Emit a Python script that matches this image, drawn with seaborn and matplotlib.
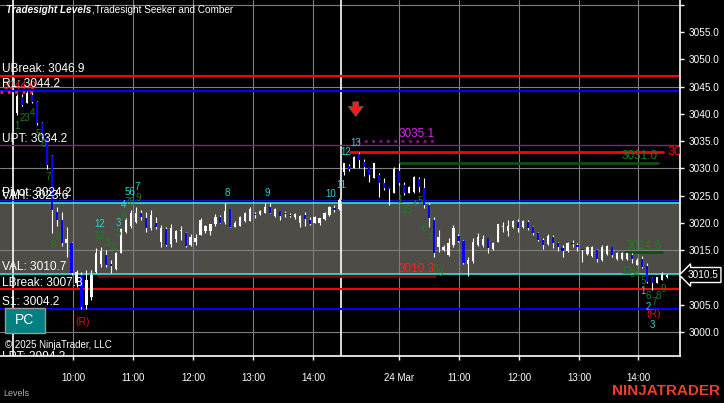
import numpy as np
import pandas as pd
import matplotlib
matplotlib.use("Agg")
import matplotlib.pyplot as plt
import matplotlib.patches as mpatches
import seaborn as sns

# 5 min bars, two sessions (bar 0-65 = day 1, 66-131 = 24 Mar)
opens = [
    3040.2, 3043.1, 3042.0, 3043.5, 3042.2, 3038.3, 3035.8, 3032.3, 3022.0, 3020.5,
    3016.3, 3016.3, 3009.0, 3010.4, 3005.0, 3006.5, 3011.0, 3012.5, 3014.1, 3012.4,
    3011.6, 3014.5, 3018.3, 3019.5, 3020.2, 3021.8, 3020.9, 3019.0, 3020.0, 3016.5,
    3018.9, 3016.2, 3017.0, 3018.5, 3018.2, 3016.0, 3016.5, 3017.8, 3018.5, 3018.5,
    3019.8, 3021.1, 3020.2, 3022.5, 3019.3, 3019.5, 3020.3, 3020.3, 3021.6, 3021.6,
    3021.9, 3022.9, 3021.2, 3022.1, 3021.7, 3021.4, 3021.0, 3020.0, 3021.4, 3020.6,
    3020.0, 3020.0, 3020.8, 3021.5, 3022.5, 3022.5,
    3029.3, 3030.5, 3030.0, 3032.6, 3031.2, 3030.2, 3028.3, 3028.8, 3027.3, 3026.5,
    3025.5, 3029.5, 3026.9, 3025.5, 3025.6, 3028.1, 3026.4, 3023.3, 3020.5, 3015.5,
    3015.0, 3014.2, 3015.9, 3017.6, 3016.7, 3012.5, 3013.0, 3016.0, 3016.0, 3017.2,
    3015.2, 3016.5, 3019.3, 3018.5, 3019.2, 3020.2, 3019.2, 3020.2, 3019.3, 3018.2,
    3016.9, 3016.2, 3017.4, 3016.3, 3015.4, 3014.8, 3016.3, 3015.9, 3015.3, 3014.3,
    3014.0, 3015.0, 3013.2, 3014.3, 3015.6, 3013.3, 3013.4, 3013.3, 3014.1, 3012.3,
    3013.4, 3012.1, 3009.9, 3009.0, 3009.6, 3010.0,
]
highs = [
    3043.6, 3043.6, 3044.2, 3044.0, 3042.4, 3038.5, 3036.0, 3032.5, 3023.0, 3022.0,
    3019.3, 3016.5, 3011.4, 3011.0, 3011.4, 3011.4, 3015.4, 3015.6, 3015.0, 3013.2,
    3014.7, 3019.1, 3020.9, 3022.4, 3022.9, 3022.4, 3022.0, 3022.4, 3021.0, 3019.6,
    3019.2, 3019.8, 3018.7, 3019.4, 3018.4, 3018.0, 3018.0, 3020.9, 3019.6, 3019.8,
    3021.6, 3021.4, 3023.65, 3022.6, 3020.3, 3021.3, 3022.0, 3022.9, 3022.0, 3022.4,
    3023.65, 3023.6, 3022.8, 3022.2, 3022.2, 3021.8, 3021.8, 3021.5, 3022.0, 3021.1,
    3021.3, 3020.9, 3022.0, 3023.1, 3023.3, 3024.5,
    3031.0, 3030.8, 3032.3, 3033.0, 3031.8, 3030.2, 3031.0, 3029.1, 3028.2, 3026.6,
    3030.2, 3031.0, 3027.5, 3026.8, 3028.6, 3028.5, 3028.2, 3023.65, 3021.1, 3018.7,
    3016.0, 3017.2, 3019.6, 3018.0, 3016.9, 3013.75, 3017.2, 3018.2, 3017.8, 3017.2,
    3016.5, 3019.8, 3020.2, 3020.5, 3020.5, 3020.7, 3020.5, 3020.5, 3019.4, 3018.4,
    3017.3, 3018.0, 3017.8, 3016.5, 3016.0, 3016.5, 3016.9, 3016.3, 3015.3, 3015.8,
    3015.8, 3015.2, 3016.0, 3016.0, 3015.6, 3014.7, 3014.7, 3014.5, 3014.5, 3013.6,
    3013.9, 3012.65, 3010.0, 3010.1, 3011.0, 3010.6,
]
lows = [
    3039.8, 3041.4, 3041.9, 3042.0, 3038.0, 3035.5, 3029.8, 3018.2, 3019.5, 3015.8,
    3013.7, 3010.5, 3008.3, 3004.2, 3004.2, 3005.9, 3010.8, 3011.9, 3011.9, 3010.8,
    3011.4, 3014.5, 3018.2, 3019.1, 3020.0, 3020.5, 3018.3, 3018.7, 3018.8, 3015.6,
    3015.8, 3015.6, 3016.5, 3016.8, 3015.6, 3015.8, 3015.9, 3017.8, 3018.2, 3017.8,
    3019.4, 3019.9, 3019.8, 3019.2, 3019.2, 3019.4, 3020.2, 3020.3, 3020.9, 3021.4,
    3021.8, 3021.8, 3021.1, 3020.5, 3021.0, 3021.0, 3020.7, 3019.3, 3019.4, 3019.6,
    3020.0, 3019.6, 3020.6, 3021.3, 3022.0, 3022.4,
    3028.8, 3029.5, 3030.0, 3030.1, 3028.6, 3027.5, 3028.3, 3024.8, 3026.0, 3023.3,
    3025.5, 3027.0, 3025.1, 3025.4, 3025.4, 3025.7, 3022.7, 3019.3, 3013.75, 3014.7,
    3014.9, 3013.9, 3015.6, 3016.5, 3012.5, 3010.3, 3012.6, 3015.8, 3015.6, 3014.5,
    3015.0, 3016.5, 3018.4, 3017.6, 3019.1, 3018.3, 3019.1, 3018.7, 3017.8, 3016.6,
    3015.2, 3016.0, 3015.4, 3014.9, 3013.75, 3014.6, 3015.6, 3014.9, 3012.8, 3014.1,
    3013.75, 3012.8, 3013.0, 3014.1, 3013.75, 3013.2, 3013.2, 3013.2, 3012.65, 3012.3,
    3011.7, 3009.0, 3007.7, 3008.9, 3009.5, 3009.9,
]
closes = [
    3043.2, 3041.6, 3043.8, 3042.2, 3038.3, 3035.8, 3030.6, 3022.4, 3020.5, 3016.3,
    3017.0, 3010.8, 3011.0, 3004.6, 3009.5, 3010.5, 3014.5, 3014.8, 3012.3, 3012.1,
    3014.5, 3018.8, 3020.5, 3021.8, 3021.9, 3021.1, 3019.1, 3021.5, 3019.2, 3019.0,
    3016.0, 3019.0, 3018.5, 3018.6, 3015.8, 3017.5, 3017.2, 3020.5, 3019.5, 3019.8,
    3021.0, 3020.0, 3022.2, 3019.3, 3020.0, 3021.0, 3021.8, 3022.6, 3021.5, 3022.2,
    3023.0, 3021.8, 3022.5, 3021.3, 3021.6, 3021.3, 3021.6, 3021.3, 3020.7, 3019.8,
    3021.0, 3020.9, 3021.8, 3023.0, 3022.45, 3024.2,
    3031.0, 3029.8, 3032.0, 3031.5, 3030.3, 3028.8, 3031.0, 3027.3, 3026.4, 3026.3,
    3029.9, 3027.3, 3025.5, 3026.6, 3028.4, 3026.6, 3023.3, 3020.9, 3014.5, 3017.5,
    3015.6, 3016.3, 3019.0, 3016.7, 3012.6, 3013.2, 3016.5, 3017.5, 3017.0, 3015.4,
    3016.3, 3019.8, 3019.4, 3019.5, 3020.3, 3019.1, 3020.4, 3019.1, 3018.2, 3016.9,
    3016.0, 3017.6, 3016.3, 3015.6, 3014.8, 3016.4, 3016.1, 3015.5, 3015.1, 3015.6,
    3015.5, 3013.3, 3015.6, 3015.8, 3014.1, 3014.5, 3014.4, 3014.4, 3013.4, 3013.2,
    3011.9, 3009.2, 3009.0, 3010.0, 3010.6, 3010.5,
]

tick_pos = [11.3, 23.4, 35.5, 47.6, 59.7, 77.0, 89.2, 101.3, 113.4, 125.2]
tick_labels = ["10:00", "11:00", "12:00", "13:00", "14:00",
               "24 Mar", "11:00", "12:00", "13:00", "14:00"]
session_breaks = [-0.8, 65.3]
price_ticks = [3000, 3005, 3010, 3015, 3020, 3025, 3030, 3035, 3040, 3045, 3050, 3055, 3060]
grid_prices = [3000, 3015, 3030, 3045, 3060]
last_price = 3010.5

# Tradesight levels
level_names = ["UBreak", "R1", "UPT", "Pivot", "VAH", "VAL", "LBreak", "S1", "LPT"]
level_values = [3046.9, 3044.2, 3034.2, 3024.2, 3023.6, 3010.7, 3007.8, 3004.2, 2994.2]
level_colors = ["#ff0000", "#0000ff", "#8b1a8b", "#1414c8", "#3fe0e0",
                "#3fe0e0", "#ff0000", "#0000ff", "#ff0000"]
level_widths = [1.5, 1.5, 1.0, 1.0, 1.2, 1.2, 1.5, 1.5, 1.5]
value_area = (3010.7, 3023.6)

# Seeker / Comber target segments
seg_values = [3044.0, 3035.1, 3033.0, 3031.0, 3014.6, 3010.3]
seg_start = [-3.4, 68.5, 67.1, 77.2, 122.6, 16.3]
seg_end = [3.2, 84.3, 130.2, 129.2, 130.0, 84.3]
seg_colors = ["#ff2020", "#7a1a7a", "#ff0000", "#164a16", "#164a16", "#8b0000"]
seg_text_colors = ["#ff2020", "#e020f0", "#ff0000", "#1f7f1f", "#1f7f1f", "#ff2020"]
seg_styles = [":", ":", "-", "-", "-", "-"]

# count labels
count_text = ["1", "23", "4", "5", "6", "7", "8", "9",
              "12", "3", "4", "5", "6", "78", "9",
              "12", "3", "4", "56", "7", "8", "9", "10", "11", "12", "13",
              "1", "23", "4", "5", "6", "7", "8", "9",
              "12", "34", "5", "6", "7", "8", "9",
              "1", "2", "3"]
count_bar = [0.0, 1.6, 3.2, 4.2, 5.2, 6.2, 7.3, 8.3,
             16.7, 18.3, 19.4, 20.4, 21.4, 22.8, 24.4,
             16.7, 20.4, 21.4, 22.8, 24.2, 42.3, 50.4, 63.3, 65.3, 66.3, 68.3,
             77.2, 78.6, 80.2, 81.3, 82.1, 83.3, 84.3, 85.3,
             123.0, 124.6, 126.2, 127.2, 128.4, 129.2, 130.2,
             126.2, 127.2, 128.2]
count_price = [3037.8, 3039.3, 3040.2, 3036.3, 3034.5, 3028.4, 3016.0, 3017.4,
               3017.6, 3016.3, 3015.4, 3018.2, 3021.3, 3023.8, 3024.6,
               3019.8, 3020.0, 3023.3, 3025.7, 3026.6, 3025.5, 3025.5, 3025.3, 3027.0, 3033.0, 3034.6,
               3024.2, 3022.4, 3023.3, 3024.0, 3019.1, 3017.2, 3011.6, 3010.8,
               3011.2, 3010.6, 3009.4, 3006.6, 3005.5, 3006.6, 3007.9,
               3007.6, 3004.6, 3001.3]
count_kind = ["g"] * 15 + ["c"] * 11 + ["g"] * 15 + ["c"] * 3
reversal_bar = [13.3, 128.4]
reversal_price = [3001.8, 3003.3]
signal_bar = 68.3

df = pd.DataFrame({"open": opens, "high": highs, "low": lows, "close": closes})
df["bar"] = np.arange(len(df))
df["up"] = df["close"] >= df["open"]

sns.set_theme(style="dark", rc={"axes.facecolor": "black", "figure.facecolor": "black",
                                "savefig.facecolor": "black"})
plt.rcParams["font.family"] = ["Liberation Sans", "DejaVu Sans"]

W, H = 724, 403
fig = plt.figure(figsize=(W / 100, H / 100), dpi=100)
ax = fig.add_axes([0, 47 / H, 680 / W, 356 / H])
ax.set_facecolor("black")
ax.set_xlim(-3.43, 133.67)
ax.set_ylim(2995.6, 3060.87)


def fx(px):
    return px / W


def fy(py):
    return 1 - py / H


# value area + grid
ax.axhspan(value_area[0], value_area[1], color="#4e4c47", lw=0, zorder=0)
for g in grid_prices:
    ax.axhline(g, color="#7f7f7f", lw=0.8, zorder=1)
for t in tick_pos:
    ax.axvline(t, color="#7f7f7f", lw=0.8, zorder=1)
for s in session_breaks:
    ax.axvline(s, color="white", lw=1.2, zorder=1)

# levels
for name, v, c, w in zip(level_names, level_values, level_colors, level_widths):
    ax.axhline(v, color=c, lw=w, zorder=2)
    ax.text(-3.0, v + 0.15, f"{name}: {v:.1f}", color="white", fontsize=8.6,
            ha="left", va="bottom", zorder=6, clip_on=True)

# segments
for v, a, b, c, tc, ls in zip(seg_values, seg_start, seg_end, seg_colors, seg_text_colors, seg_styles):
    ax.plot([a, b], [v, v], color=c, lw=2.0, ls=ls, zorder=2)
    if v == 3044.0:
        ax.text(a + 0.4, v + 0.1, f"{v:.1f}", color=tc, fontsize=8, ha="left", va="bottom", zorder=5)
    elif v == 3033.0:
        ax.text(b + 0.9, v, f"{v:.1f}", color=tc, fontsize=9, ha="left", va="center",
                zorder=5, clip_on=True)
    else:
        ax.text(b, v + 0.1, f"{v:.1f}", color=tc, fontsize=8.5, ha="right", va="bottom", zorder=5)

# candles
ax.vlines(df["bar"], df["low"], df["high"], color="white", lw=0.8, zorder=3)
body_lo = df[["open", "close"]].min(axis=1)
body_h = (df["close"] - df["open"]).abs().clip(lower=0.2)
ax.bar(df["bar"], body_h, bottom=body_lo, width=0.45, lw=0,
       color=np.where(df["up"], "white", "#0000ff"), zorder=4)

# counts
kind_colors = {"g": "#1f7f1f", "c": "#2ad4d4"}
for t, b, p, k in zip(count_text, count_bar, count_price, count_kind):
    ax.text(b, p, t, color=kind_colors[k], fontsize=7, ha="center", va="center", zorder=7)
for b, p in zip(reversal_bar, reversal_price):
    ax.text(b, p, "(R)", color="#e01010", fontsize=7.5, ha="center", va="center", zorder=7)

ax.annotate("", xy=(signal_bar, 3039.0), xytext=(signal_bar, 3042.7),
            arrowprops=dict(arrowstyle="simple,head_width=0.9,head_length=0.6,tail_width=0.35",
                            fc="#ff1a1a", ec="#555555", lw=0.6), zorder=8)

# axes
for side in ["top", "left"]:
    ax.spines[side].set_visible(False)
for side in ["right", "bottom"]:
    ax.spines[side].set_color("white")
    ax.spines[side].set_linewidth(1.2)
ax.yaxis.tick_right()
ax.set_yticks(price_ticks, [f"{p:.1f}" if p < 3060 else "" for p in price_ticks])
ax.set_xticks(tick_pos, tick_labels)
ax.tick_params(axis="y", colors="white", labelsize=7.2, length=3, width=1, pad=3, right=True)
ax.tick_params(axis="x", colors="white", labelsize=7, length=3, width=1, pad=9, bottom=True)
ax.grid(False)

# overlay texts
t1 = fig.text(fx(6), fy(10), "Tradesight Levels", color="white", fontsize=7.2,
              style="italic", weight="bold", va="center")
r = fig.canvas.get_renderer()
x_end = t1.get_window_extent(r).x1
fig.text(x_end / W + 0.001, fy(10), ",Tradesight Seeker and Comber", color="white",
         fontsize=7.2, va="center")
fig.patches.append(mpatches.Rectangle((fx(5), fy(333)), 40 / W, 25 / H, transform=fig.transFigure,
                                      fc="#008080", ec="#9a9a9a", lw=1, zorder=5))
fig.text(fx(25), fy(320.5), "PC", color="white", fontsize=10, ha="center", va="center", zorder=6)
fig.text(fx(5), fy(345), "\u00a9 2025 NinjaTrader, LLC", color="white", fontsize=7, va="center")
fig.text(fx(3), fy(393), "Levels", color="#b0b0b0", fontsize=6.5, va="center")
fig.text(fx(720), fy(391), "NINJATRADER", color="#e8402a", fontsize=11, weight="bold",
         ha="right", va="center")
fig.text(fx(703), fy(275), f"{last_price:.1f}", color="white", fontsize=7.2, ha="center", va="center",
         bbox=dict(boxstyle="larrow,pad=0.25", fc="black", ec="white", lw=1), zorder=9)

fig.savefig("out.png", dpi=100)
